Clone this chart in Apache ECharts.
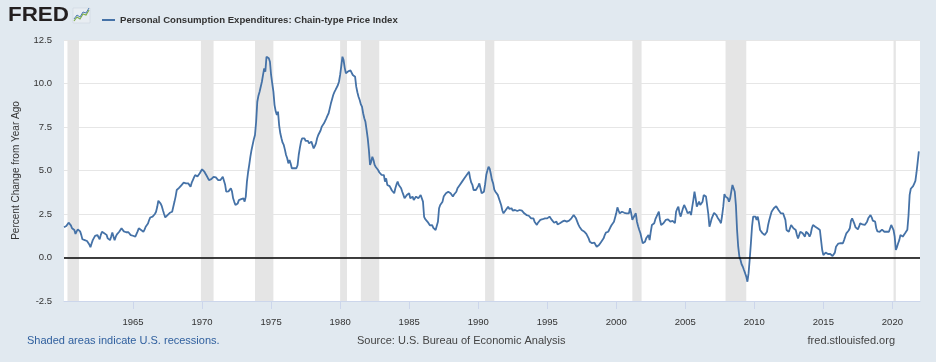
<!DOCTYPE html>
<html><head><meta charset="utf-8">
<script src="https://cdn.jsdelivr.net/npm/echarts@6/dist/echarts.min.js"></script>
<style>html,body{margin:0;padding:0;background:#e1e9f0;}#c{width:936px;height:362px;}</style>
</head><body><div id="c"></div>
<script>
// Monthly data, Percent Change from Year Ago, starting Jan 1960
const startYear = 1960;
const seriesName = 'Personal Consumption Expenditures: Chain-type Price Index';
const pce1960s = [
 1.74,1.76,1.81,1.9,2.0,2.0,1.85,1.68,1.6,1.58,1.35,1.5,
 1.62,1.54,1.5,1.3,1.05,1.02,1.0,1.0,0.95,0.91,0.75,0.59,
 0.8,1.0,1.1,1.24,1.29,1.29,1.2,1.05,1.3,1.48,1.43,1.39,
 1.39,1.3,1.1,1.05,1.0,1.2,1.43,1.2,1.0,1.2,1.33,1.4,
 1.48,1.55,1.68,1.6,1.5,1.43,1.45,1.48,1.45,1.4,1.29,1.25,
 1.25,1.2,1.2,1.3,1.5,1.68,1.6,1.58,1.5,1.48,1.6,1.77,
 1.77,1.95,2.15,2.3,2.38,2.35,2.3,2.5,2.63,2.9,3.26,3.2,
 3.1,2.95,2.72,2.5,2.3,2.38,2.44,2.5,2.57,2.6,2.63,2.63,
 3.2,3.5,3.88,3.95,4.0,4.07,4.15,4.25,4.3,4.3,4.26,4.2,
 4.26,4.15,4.07,4.3,4.45,4.6,4.74,4.7,4.65,4.75,4.84,4.95
];
const pce1970s = [
 5.07,5.0,4.93,4.84,4.7,4.6,4.45,4.45,4.5,4.6,4.64,4.6,
 4.6,4.55,4.45,4.36,4.45,4.55,4.64,4.55,4.2,3.78,3.69,3.8,
 3.9,3.98,3.8,3.4,3.2,3.02,3.1,3.11,3.3,3.4,3.35,3.3,
 3.4,3.21,3.5,4.36,4.9,5.32,5.8,6.18,6.27,6.8,7.04,7.8,
 8.95,9.3,9.53,9.63,10.1,10.5,10.87,10.68,11.54,11.5,11.45,11.25,
 10.49,10.0,9.53,8.76,8.4,8.19,8.38,7.6,7.14,6.85,6.6,6.47,
 6.2,5.89,5.7,5.41,5.6,5.4,5.13,5.22,5.13,5.13,5.13,5.3,
 5.89,6.3,6.66,6.85,6.75,6.85,6.7,6.66,6.7,6.56,6.6,6.66,
 6.66,6.27,6.4,6.56,6.85,7.04,7.08,7.3,7.52,7.61,7.71,7.8,
 8.0,8.15,8.29,8.57,8.86,9.1,9.34,9.5,9.63,9.72,9.9,10.1
];
const pce1980s = [
 10.49,11.0,11.54,11.35,10.9,10.59,10.64,10.7,10.68,10.75,10.83,10.49,
 10.45,10.39,9.82,9.5,9.24,9.05,8.8,8.67,8.29,8.0,7.8,7.33,
 6.85,6.18,5.32,5.51,5.79,5.6,5.32,5.2,5.13,5.03,4.9,4.84,
 4.75,4.64,4.74,4.36,4.55,4.17,4.26,4.1,3.98,3.85,3.78,3.69,
 3.98,4.2,4.36,4.17,4.07,3.98,3.78,3.6,3.4,3.5,3.59,3.65,
 3.69,3.4,3.45,3.5,3.3,3.4,3.5,3.4,3.4,3.45,3.59,3.59,
 3.21,2.34,2.2,2.15,2.05,1.95,1.85,1.82,1.86,1.7,1.65,1.58,
 1.6,2.05,2.83,3.02,3.1,3.21,3.5,3.6,3.69,3.75,3.78,3.88,
 3.69,3.6,3.5,3.62,3.7,3.78,3.98,4.07,4.17,4.25,4.36,4.45,
 4.55,4.65,4.74,4.85,4.93,4.55,4.3,4.17,3.88,3.85,3.88,3.98
];
const pce1990s = [
 4.1,4.26,3.98,3.69,3.75,3.78,4.2,4.74,5.0,5.22,5.1,4.8,
 4.45,4.26,3.9,3.78,3.88,3.6,3.5,3.2,3.0,2.7,2.54,2.44,
 2.73,2.83,2.92,2.8,2.73,2.83,2.7,2.63,2.73,2.75,2.67,2.73,
 2.73,2.63,2.69,2.6,2.54,2.5,2.44,2.44,2.4,2.35,2.25,2.16,
 2.25,2.06,1.95,1.87,2.0,2.06,2.16,2.25,2.2,2.16,2.25,2.2,
 2.25,2.3,2.35,2.25,2.16,2.06,2.0,2.0,2.06,1.9,1.87,1.97,
 2.06,2.06,2.12,2.12,2.1,2.06,2.16,2.12,2.2,2.25,2.35,2.44,
 2.35,2.25,2.16,1.9,1.77,1.68,1.58,1.55,1.5,1.43,1.36,1.29,
 1.1,0.91,0.85,0.82,0.91,0.85,0.82,0.62,0.7,0.72,0.82,0.91,
 1.0,1.1,1.29,1.43,1.45,1.48,1.58,1.75,1.87,1.97,2.05,2.16
];
const pce2000s = [
 2.54,2.88,2.7,2.54,2.6,2.63,2.54,2.57,2.6,2.54,2.55,2.54,
 2.83,2.54,2.16,2.3,2.35,2.54,2.06,1.8,1.58,1.39,1.1,0.82,
 0.9,0.91,1.1,1.2,1.29,1.0,1.48,1.87,1.9,1.97,2.2,2.35,
 2.3,2.63,2.16,1.87,1.9,1.97,2.06,2.16,2.06,2.19,2.1,2.06,
 2.06,2.1,2.16,1.97,2.63,2.8,2.92,2.54,2.35,2.6,2.83,3.02,
 3.02,2.73,2.54,2.6,2.63,2.44,2.9,3.3,3.78,3.4,2.92,3.0,
 3.21,3.02,3.1,3.21,3.59,3.55,3.5,3.4,2.5,1.77,2.0,2.25,
 2.35,2.57,2.5,2.44,2.3,2.25,2.1,1.97,2.4,2.92,3.65,3.5,
 3.5,3.4,3.21,3.4,3.8,4.17,4.07,3.78,3.0,1.58,0.62,0.05,
 -0.14,-0.4,-0.53,-0.72,-0.9,-1.1,-1.39,-0.9,-0.1,0.8,1.77,2.35
];
const pce2010s = [
 2.35,2.35,2.16,2.35,2.0,1.58,1.48,1.4,1.39,1.29,1.35,1.48,
 1.87,2.16,2.4,2.63,2.73,2.83,2.9,2.95,3.02,2.73,2.63,2.54,
 2.54,2.54,2.35,2.16,1.58,1.48,1.48,1.68,1.87,1.8,1.68,1.6,
 1.58,1.29,1.1,1.1,1.48,1.58,1.39,1.39,1.2,1.48,1.48,1.35,
 1.2,1.35,1.68,1.87,1.8,1.77,1.7,1.68,1.6,1.58,1.0,0.43,
 0.14,0.24,0.28,0.25,0.2,0.24,0.2,0.2,0.09,0.15,0.28,0.62,
 0.72,0.8,0.91,0.82,0.85,0.82,1.0,1.1,1.39,1.48,1.55,1.68,
 2.1,2.25,2.19,1.93,1.73,1.62,1.62,1.77,1.97,1.87,1.9,2.0,
 1.87,1.95,2.06,2.25,2.35,2.44,2.31,2.12,2.1,2.06,1.68,1.5,
 1.4,1.48,1.58,1.6,1.58,1.48,1.58,1.48,1.48,1.48,1.58,1.87
];
const pce2020s = [
 1.87,1.58,1.2,0.43,0.6,0.82,1.0,1.29,1.35,1.2,1.16,1.39,
 1.45,1.6,2.4,3.6,3.95,4.0,4.1,4.25,4.4,4.9,5.5,6.1
];
// NBER recessions (start, end) as year-month
const recessions = [
 ['1960-04','1961-02'],['1969-12','1970-11'],['1973-11','1975-03'],
 ['1980-01','1980-07'],['1981-07','1982-11'],['1990-07','1991-03'],
 ['2001-03','2001-11'],['2007-12','2009-06'],['2020-02','2020-04']
];
const xTickYears = [1965,1970,1975,1980,1985,1990,1995,2000,2005,2010,2015,2020];
const yTicks = [-2.5,0,2.5,5,7.5,10,12.5];

const values = [].concat(pce1960s,pce1970s,pce1980s,pce1990s,pce2000s,pce2010s,pce2020s);
const data = values.map((v,i)=>[startYear + i/12, v]);
const ym = s => { const p = s.split('-'); return +p[0] + (+p[1]-1)/12; };
const recAreas = recessions.map(r => [{xAxis: ym(r[0])}, {xAxis: ym(r[1])}]);

const FONT = '"Liberation Sans", Arial, sans-serif';
const chart = echarts.init(document.getElementById('c'), null, {renderer:'canvas'});
chart.setOption({
  animation: false,
  backgroundColor: '#e1e9f0',
  textStyle: {fontFamily: FONT},
  grid: {left: 64, right: 16, top: 40, bottom: 61, show: true, backgroundColor: '#ffffff', borderWidth: 0},
  legend: {
    data: [seriesName], left: 97, top: 10, icon: 'rect', itemWidth: 13, itemHeight: 2,
    textStyle: {fontSize: 9.6, fontWeight: 'bold', color: '#333', fontFamily: FONT}
  },
  xAxis: {
    type: 'value', min: startYear, max: 2022,
    axisLine: {show: true, onZero: false, lineStyle: {color: '#ccd6eb', width: 1}},
    axisTick: {show: true, length: 8, lineStyle: {color: '#ccd6eb'}, customValues: xTickYears},
    axisLabel: {customValues: xTickYears, fontSize: 9.5, color: '#333', margin: 16, fontFamily: FONT, formatter: v => String(Math.round(v))},
    splitLine: {show: false}
  },
  yAxis: {
    type: 'value', min: yTicks[0], max: yTicks[yTicks.length-1], interval: 2.5,
    name: 'Percent Change from Year Ago', nameLocation: 'middle', nameGap: 43,
    nameTextStyle: {fontSize: 10, color: '#333', fontFamily: FONT},
    axisLine: {show: false}, axisTick: {show: false},
    axisLabel: {fontSize: 9.5, color: '#333', margin: 12, fontFamily: FONT, formatter: v => v.toFixed(1)},
    splitLine: {lineStyle: {color: '#e6e6e6', width: 1}}
  },
  series: [
    {
      name: 'recessions', type: 'line', data: [], silent: true, z: 1,
      markArea: {silent: true, itemStyle: {color: '#e5e5e5', opacity: 1}, data: recAreas}
    },
    {
      name: seriesName, type: 'line', data: data, showSymbol: false, symbol: 'none', z: 3,
      lineStyle: {color: '#4572a7', width: 1.8}, itemStyle: {color: '#4572a7'},
      markLine: {silent: true, symbol: 'none', label: {show: false},
        lineStyle: {color: '#000', width: 1.5, type: 'solid'}, data: [{yAxis: 0}]}
    }
  ],
  graphic: [
    {type: 'text', left: 8, top: 5, scaleX: 1.12, style: {text: 'FRED', fontSize: 20, fontWeight: 900, fontFamily: FONT, fill: '#231f20'}},
    {type: 'rect', shape: {x: 73, y: 8, width: 17, height: 15}, style: {fill: '#e8edf2', stroke: '#c9d3de', lineWidth: 0.5}},
    {type: 'polyline', shape: {points: [[74,21],[77,17],[80,19],[83,14],[86,15],[89,10]]}, style: {stroke: '#7fae4a', lineWidth: 1.2, fill: null}},
    {type: 'polyline', shape: {points: [[74,19],[77,15],[80,17],[83,12],[86,13],[89,8]]}, style: {stroke: '#4d7bb0', lineWidth: 1, fill: null}},
    {type: 'text', left: 27, top: 335, style: {text: 'Shaded areas indicate U.S. recessions.', fontSize: 11, fontFamily: FONT, fill: '#2f5f9e'}},
    {type: 'text', left: 357, top: 335, style: {text: 'Source: U.S. Bureau of Economic Analysis', fontSize: 11, fontFamily: FONT, fill: '#444'}},
    {type: 'text', right: 41, top: 335, style: {text: 'fred.stlouisfed.org', fontSize: 11, fontFamily: FONT, fill: '#444'}}
  ]
});
</script></body></html>
